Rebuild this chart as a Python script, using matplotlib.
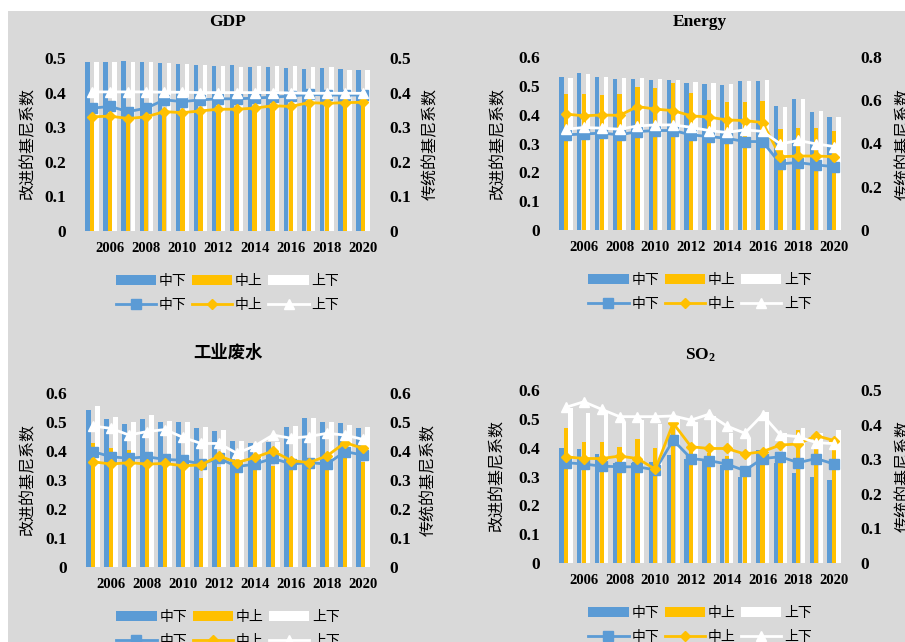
import matplotlib
matplotlib.use("Agg")
import matplotlib.pyplot as plt
from matplotlib.patches import Rectangle
import numpy as np

plt.rcParams["font.family"] = ["Liberation Serif", "Noto Sans CJK SC"]
plt.rcParams["mathtext.default"] = "regular"

YEARS = list(range(2005, 2021))
TICK_YEARS = [2006, 2008, 2010, 2012, 2014, 2016, 2018, 2020]
SERIES = ["中下", "中上", "上下"]
COLORS = ["#5b9bd5", "#ffc000", "#ffffff"]
MARKERS = ["s", "D", "^"]
MARKER_SIZES = [6.5, 5.5, 7]

# GDP
gdp_bar_ml = [0.489, 0.489, 0.491, 0.488, 0.486, 0.484, 0.480, 0.478, 0.481, 0.474, 0.475, 0.472, 0.468, 0.470, 0.469, 0.466]
gdp_bar_mu = [0.325, 0.325, 0.318, 0.325, 0.340, 0.337, 0.342, 0.347, 0.347, 0.350, 0.357, 0.355, 0.366, 0.364, 0.366, 0.367]
gdp_bar_ul = [0.488, 0.488, 0.487, 0.487, 0.485, 0.482, 0.479, 0.477, 0.473, 0.478, 0.477, 0.476, 0.475, 0.474, 0.466, 0.465]
gdp_line_ml = [0.355, 0.360, 0.345, 0.355, 0.379, 0.374, 0.379, 0.382, 0.382, 0.384, 0.387, 0.390, 0.395, 0.393, 0.393, 0.393]
gdp_line_mu = [0.330, 0.332, 0.325, 0.330, 0.345, 0.342, 0.347, 0.352, 0.352, 0.355, 0.362, 0.360, 0.371, 0.369, 0.371, 0.372]
gdp_line_ul = [0.402, 0.402, 0.402, 0.402, 0.401, 0.401, 0.400, 0.400, 0.400, 0.400, 0.400, 0.399, 0.398, 0.398, 0.398, 0.398]

# Energy
energy_bar_ml = [0.529, 0.544, 0.532, 0.523, 0.523, 0.521, 0.520, 0.509, 0.505, 0.502, 0.516, 0.516, 0.429, 0.456, 0.409, 0.392]
energy_bar_mu = [0.471, 0.471, 0.469, 0.471, 0.495, 0.492, 0.509, 0.474, 0.451, 0.445, 0.445, 0.449, 0.350, 0.355, 0.353, 0.345]
energy_bar_ul = [0.527, 0.541, 0.530, 0.528, 0.528, 0.524, 0.521, 0.514, 0.509, 0.505, 0.517, 0.519, 0.428, 0.455, 0.412, 0.391]
energy_line_ml = [0.440, 0.444, 0.448, 0.440, 0.455, 0.460, 0.460, 0.440, 0.432, 0.424, 0.409, 0.409, 0.306, 0.312, 0.301, 0.293]
energy_line_mu = [0.536, 0.528, 0.532, 0.530, 0.571, 0.559, 0.552, 0.528, 0.522, 0.509, 0.506, 0.497, 0.339, 0.342, 0.342, 0.339]
energy_line_ul = [0.466, 0.474, 0.471, 0.466, 0.481, 0.486, 0.486, 0.475, 0.460, 0.451, 0.463, 0.456, 0.398, 0.414, 0.398, 0.386]

# Industrial waste water
water_bar_ml = [0.541, 0.511, 0.492, 0.511, 0.501, 0.499, 0.478, 0.470, 0.436, 0.429, 0.432, 0.482, 0.515, 0.501, 0.495, 0.478]
water_bar_mu = [0.428, 0.411, 0.404, 0.396, 0.384, 0.358, 0.306, 0.346, 0.329, 0.334, 0.350, 0.334, 0.340, 0.334, 0.378, 0.363]
water_bar_ul = [0.555, 0.518, 0.501, 0.524, 0.505, 0.501, 0.484, 0.474, 0.436, 0.426, 0.430, 0.487, 0.513, 0.501, 0.490, 0.482]
water_line_ml = [0.398, 0.380, 0.375, 0.380, 0.371, 0.368, 0.355, 0.375, 0.346, 0.355, 0.375, 0.355, 0.360, 0.355, 0.398, 0.386]
water_line_mu = [0.363, 0.355, 0.360, 0.355, 0.357, 0.349, 0.352, 0.383, 0.360, 0.378, 0.400, 0.367, 0.360, 0.383, 0.429, 0.409]
water_line_ul = [0.486, 0.478, 0.455, 0.467, 0.474, 0.447, 0.426, 0.426, 0.392, 0.418, 0.455, 0.444, 0.450, 0.461, 0.455, 0.440]

# SO2
so2_bar_ml = [0.400, 0.395, 0.377, 0.346, 0.346, 0.352, 0.375, 0.360, 0.355, 0.340, 0.300, 0.392, 0.346, 0.311, 0.298, 0.288]
so2_bar_mu = [0.468, 0.421, 0.421, 0.404, 0.430, 0.400, 0.490, 0.390, 0.380, 0.370, 0.330, 0.370, 0.380, 0.462, 0.400, 0.402]
so2_bar_ul = [0.538, 0.520, 0.520, 0.490, 0.495, 0.483, 0.510, 0.490, 0.510, 0.450, 0.433, 0.525, 0.452, 0.468, 0.450, 0.462]
so2_line_ml = [0.290, 0.286, 0.280, 0.278, 0.278, 0.269, 0.355, 0.302, 0.296, 0.286, 0.267, 0.302, 0.307, 0.290, 0.302, 0.286]
so2_line_mu = [0.307, 0.302, 0.302, 0.309, 0.302, 0.271, 0.404, 0.336, 0.331, 0.331, 0.315, 0.322, 0.341, 0.344, 0.368, 0.354]
so2_line_ul = [0.450, 0.466, 0.444, 0.423, 0.423, 0.423, 0.425, 0.413, 0.430, 0.396, 0.375, 0.428, 0.370, 0.365, 0.348, 0.345]

W, H = 905, 642


def px_rect(left, right, top, bottom):
    return [left / W, 1 - bottom / H, (right - left) / W, (bottom - top) / H]


panels = [
    dict(title="GDP", rect=px_rect(83, 372, 58, 231),
         bars=[gdp_bar_ml, gdp_bar_mu, gdp_bar_ul],
         lines=[gdp_line_ml, gdp_line_mu, gdp_line_ul],
         left_max=0.5, left_step=0.1, right_max=0.5, right_step=0.1,
         title_gap=36, lab_l=55, lab_r=58),
    dict(title="Energy", rect=px_rect(557, 843, 57, 230),
         bars=[energy_bar_ml, energy_bar_mu, energy_bar_ul],
         lines=[energy_line_ml, energy_line_mu, energy_line_ul],
         left_max=0.6, left_step=0.1, right_max=0.8, right_step=0.2,
         title_gap=35, lab_l=59, lab_r=60),
    dict(title="工业废水", rect=px_rect(84, 372, 393, 567),
         bars=[water_bar_ml, water_bar_mu, water_bar_ul],
         lines=[water_line_ml, water_line_mu, water_line_ul],
         left_max=0.6, left_step=0.1, right_max=0.6, right_step=0.1,
         title_gap=40, lab_l=56, lab_r=56),
    dict(title="SO$_2$", rect=px_rect(557, 843, 390, 563),
         bars=[so2_bar_ml, so2_bar_mu, so2_bar_ul],
         lines=[so2_line_ml, so2_line_mu, so2_line_ul],
         left_max=0.6, left_step=0.1, right_max=0.5, right_step=0.1,
         title_gap=35, lab_l=60, lab_r=60),
]

fig = plt.figure(figsize=(W / 100, H / 100), dpi=100, facecolor="white")
fig.patches.append(Rectangle((8 / W, 0), 1, 1 - 11 / H, transform=fig.transFigure,
                             facecolor="#d9d9d9", edgecolor="none", zorder=-10))

x = np.arange(len(YEARS))
bar_w = 0.24
offsets = [-0.25, 0.0, 0.25]
cjk = ["Noto Sans CJK SC", "DejaVu Sans"]


def fmt(v):
    return "0" if abs(v) < 1e-9 else f"{v:.1f}"


for p in panels:
    ax = fig.add_axes(p["rect"])
    ax.patch.set_visible(False)
    ax2 = ax.twinx()
    ax2.patch.set_visible(False)

    bar_handles = []
    for vals, off, col, name in zip(p["bars"], offsets, COLORS, SERIES):
        b = ax.bar(x + off, vals, width=bar_w, color=col, edgecolor="none", label=name)
        bar_handles.append(b)

    line_handles = []
    for vals, col, mk, ms, name in zip(p["lines"], COLORS, MARKERS, MARKER_SIZES, SERIES):
        (ln,) = ax2.plot(x, vals, color=col, lw=2, marker=mk, markersize=ms,
                         markeredgecolor=col, label=name)
        line_handles.append(ln)

    ax.set_xlim(-0.5, len(YEARS) - 0.5)
    lt = np.arange(0, p["left_max"] + 1e-9, p["left_step"])
    rt = np.arange(0, p["right_max"] + 1e-9, p["right_step"])
    ax.set_ylim(0, p["left_max"])
    ax2.set_ylim(0, p["right_max"])
    ax.set_yticks(lt)
    ax.set_yticklabels([fmt(v) for v in lt])
    ax2.set_yticks(rt)
    ax2.set_yticklabels([fmt(v) for v in rt])
    ax.set_xticks([YEARS.index(y) for y in TICK_YEARS])
    ax.set_xticklabels([str(y) for y in TICK_YEARS])

    for a in (ax, ax2):
        for s in a.spines.values():
            s.set_visible(False)
    ax.tick_params(axis="y", length=0, pad=12.5, labelsize=12.5)
    ax2.tick_params(axis="y", length=0, pad=12.5, labelsize=12.5)
    ax.tick_params(axis="x", length=0, pad=8, labelsize=10.5)
    for lab in ax.get_yticklabels() + ax2.get_yticklabels() + ax.get_xticklabels():
        lab.set_fontweight("bold")

    bbox_h = p["rect"][3] * H
    bbox_w = p["rect"][2] * W
    ax.text(0.5, 1 + p["title_gap"] / bbox_h, p["title"], transform=ax.transAxes,
            ha="center", va="center", fontsize=12.5, fontweight="bold",
            family=["Liberation Serif", "Noto Sans CJK SC"])
    ax.text(-p["lab_l"] / bbox_w, 0.5, "改进的基尼系数", transform=ax.transAxes,
            rotation=90, ha="center", va="center", fontsize=11.5, family=cjk)
    ax.text(1 + p["lab_r"] / bbox_w, 0.5, "传统的基尼系数", transform=ax.transAxes,
            rotation=90, ha="center", va="center", fontsize=11.5, family=cjk)

    handles = []
    for b, ln in zip(bar_handles, line_handles):
        handles += [b, ln]
    labels = []
    for name in SERIES:
        labels += [name, name]
    ax2.legend(handles, labels, ncol=3, loc="center",
               bbox_to_anchor=(0.5, -62 / bbox_h), frameon=False,
               prop={"family": cjk, "size": 10}, handlelength=2.9,
               handletextpad=0.2, columnspacing=0.4, labelspacing=0.75,
               borderaxespad=0)

fig.savefig("out.png", dpi=100, facecolor=fig.get_facecolor())
